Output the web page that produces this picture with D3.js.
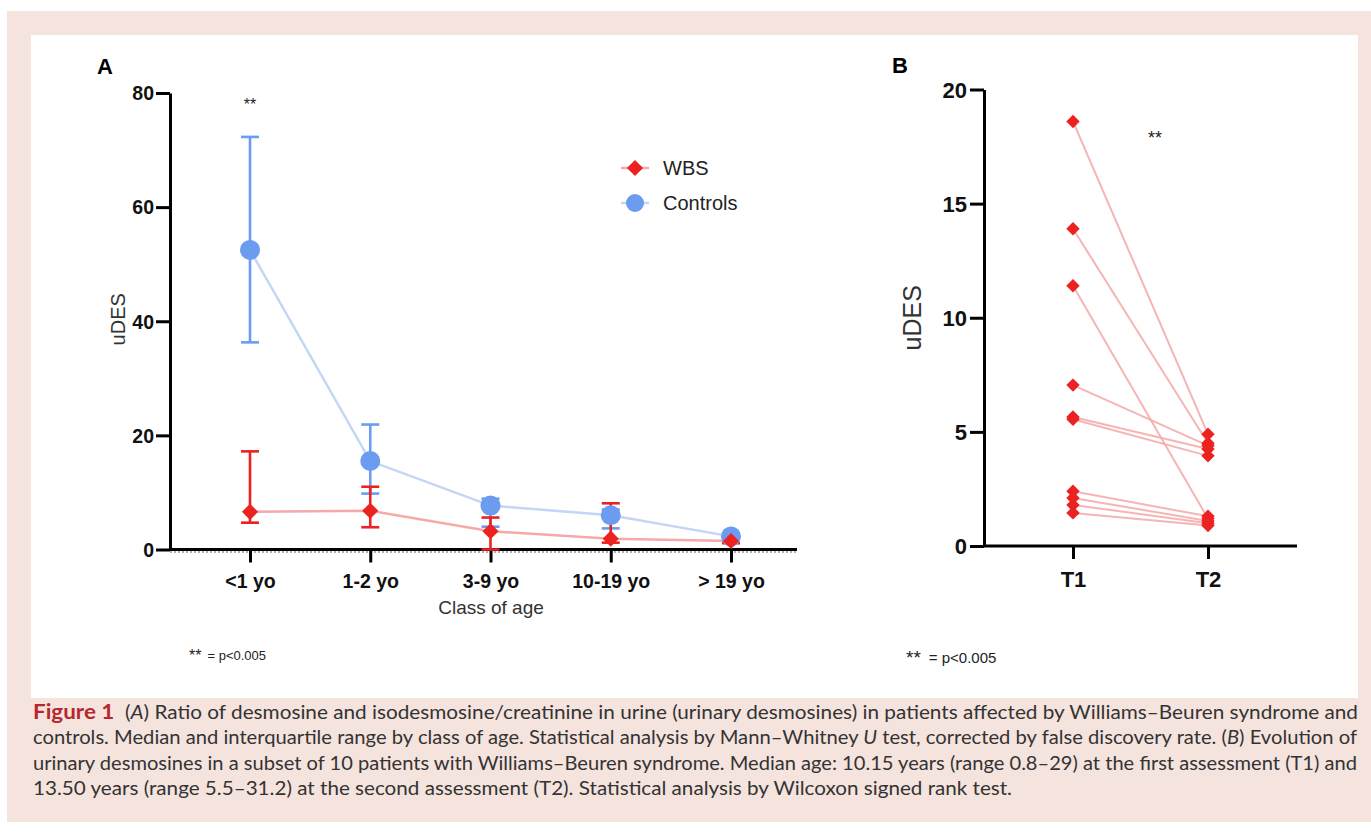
<!DOCTYPE html>
<html>
<head>
<meta charset="utf-8">
<script src="https://cdn.jsdelivr.net/npm/d3@7"></script>
<style>
  body { margin: 0; background: #fff; }
  text { font-family: "Liberation Sans", Arial, sans-serif; }
  .cap text { font-family: Lato, "Open Sans", sans-serif; }
</style>
</head>
<body>
<div class="canvas"></div>
<script>
// panel A data
const ageClasses = ['<1 yo', '1-2 yo', '3-9 yo', '10-19 yo', '> 19 yo'];
const wbsMedian = [6.6, 6.8, 3.2, 1.9, 1.5];
const wbsQ1 = [4.7, 3.9, 0.0, 1.2, 1.1];
const wbsQ3 = [17.2, 11.0, 5.6, 8.1, 2.0];
const ctrlMedian = [52.5, 15.5, 7.7, 6.0, 2.3];
const ctrlQ1 = [36.3, 9.8, 4.0, 3.7, 1.7];
const ctrlQ3 = [72.3, 21.9, 8.9, 7.0, 2.8];
const yTicksA = [0, 20, 40, 60, 80];

// panel B data (paired, 10 patients)
const times = ['T1', 'T2'];
const t1Values = [18.6, 13.9, 11.4, 7.05, 5.65, 5.55, 2.4, 2.1, 1.8, 1.45];
const t2Values = [4.9, 4.5, 1.2, 4.4, 4.25, 3.95, 1.3, 1.1, 1.0, 0.9];
const yTicksB = [0, 5, 10, 15, 20];

// caption
const captionLines = [
  [{t: 'Figure 1', c: 'fig'}, {t: '  ('}, {t: 'A', c: 'it'}, {t: ') Ratio of desmosine and isodesmosine/creatinine in urine (urinary desmosines) in patients affected by Williams\u2013Beuren syndrome and'}],
  [{t: 'controls. Median and interquartile range by class of age. Statistical analysis by Mann\u2013Whitney '}, {t: 'U', c: 'it'}, {t: ' test, corrected by false discovery rate. ('}, {t: 'B', c: 'it'}, {t: ') Evolution of'}],
  [{t: 'urinary desmosines in a subset of 10 patients with Williams\u2013Beuren syndrome. Median age: 10.15 years (range 0.8\u201329) at the first assessment (T1) and'}],
  [{t: '13.50 years (range 5.5\u201331.2) at the second assessment (T2). Statistical analysis by Wilcoxon signed rank test.'}]
];
const captionWidths = [1325, 1324, 1324, 979];

const red = '#ec2220', redLine = '#f5a9a8';
const blue = '#6b9cef', blueLine = '#c3d6f5';

const W = 1371, H = 833;
const svg = d3.select('.canvas').append('svg')
  .attr('width', W).attr('height', H);

// frame
svg.append('rect').attr('x', 7).attr('y', 11).attr('width', W - 7).attr('height', 811).attr('fill', '#f5e3de');
svg.append('rect').attr('x', 31).attr('y', 35).attr('width', 1327).attr('height', 663).attr('fill', '#fff');

//---------------- panel A
const A = {left: 170, right: 797, top: 93, bottom: 549.5};
const xA = d3.scalePoint().domain(ageClasses).range([250, 731]);
const yA = d3.scaleLinear().domain([0, 80]).range([A.bottom, A.top]);

const gA = svg.append('g');

// dotted zero line under axis
gA.append('line')
  .attr('x1', A.left).attr('x2', A.right)
  .attr('y1', yA(0) + 2.5).attr('y2', yA(0) + 2.5)
  .attr('stroke', '#666').attr('stroke-width', 1.2).attr('stroke-dasharray', '2,2');

const yAxisA = gA.append('g')
  .attr('transform', `translate(${A.left},0)`)
  .call(d3.axisLeft(yA).tickValues(yTicksA).tickSize(14).tickPadding(2).tickSizeOuter(0));

const xAxisA = gA.append('g')
  .attr('transform', `translate(0,${A.bottom})`)
  .call(d3.axisBottom(xA).tickSize(13).tickPadding(8).tickSizeOuter(0));
xAxisA.select('.domain').attr('d', `M${A.left},0H${A.right}`);

[yAxisA, xAxisA].forEach(ax => {
  ax.selectAll('path, line').attr('stroke', '#000').attr('stroke-width', 3);
  ax.selectAll('text').attr('fill', '#111').attr('font-size', 19.5).attr('font-weight', 'bold')
    .style('font-family', '"Liberation Sans", Arial, sans-serif');
});
xAxisA.selectAll('text').attr('dy', '0.9em');
yAxisA.selectAll('text').attr('dy', '0.35em');

const lineA = d3.line().x((d, i) => xA(ageClasses[i])).y(d => yA(d));

gA.append('path').datum(ctrlMedian).attr('d', lineA)
  .attr('fill', 'none').attr('stroke', blueLine).attr('stroke-width', 2.5);
gA.append('path').datum(wbsMedian).attr('d', lineA)
  .attr('fill', 'none').attr('stroke', redLine).attr('stroke-width', 2.5);

const errorBars = (g, lo, hi, col) => {
  const cap = 9;
  const eb = g.append('g').selectAll('g').data(ageClasses).join('g')
    .attr('stroke', col).attr('stroke-width', 2.6);
  eb.append('line').attr('x1', d => xA(d)).attr('x2', d => xA(d))
    .attr('y1', (d, i) => yA(lo[i])).attr('y2', (d, i) => yA(hi[i]));
  eb.append('line').attr('x1', d => xA(d) - cap).attr('x2', d => xA(d) + cap)
    .attr('y1', (d, i) => yA(lo[i])).attr('y2', (d, i) => yA(lo[i]));
  eb.append('line').attr('x1', d => xA(d) - cap).attr('x2', d => xA(d) + cap)
    .attr('y1', (d, i) => yA(hi[i])).attr('y2', (d, i) => yA(hi[i]));
};
errorBars(gA, ctrlQ1, ctrlQ3, blue);
errorBars(gA, wbsQ1, wbsQ3, red);

const diamond = size => d3.symbol().type(d3.symbolSquare).size(size);

gA.append('g').selectAll('circle').data(ctrlMedian).join('circle')
  .attr('cx', (d, i) => xA(ageClasses[i])).attr('cy', d => yA(d))
  .attr('r', 10).attr('fill', blue);

gA.append('g').selectAll('path').data(wbsMedian).join('path')
  .attr('d', diamond(130))
  .attr('transform', (d, i) => `translate(${xA(ageClasses[i])},${yA(d)}) rotate(45)`)
  .attr('fill', red);

// legend
const legend = gA.append('g').attr('transform', 'translate(635,168)');
const legendItems = [{name: 'WBS', col: red, lcol: redLine}, {name: 'Controls', col: blue, lcol: blueLine}];
const li = legend.selectAll('g').data(legendItems).join('g')
  .attr('transform', (d, i) => `translate(0,${i * 35})`);
li.append('line').attr('x1', -14).attr('x2', 14).attr('stroke', d => d.lcol).attr('stroke-width', 2.5);
li.filter((d, i) => i === 0).append('path').attr('d', diamond(130)).attr('transform', 'rotate(45)').attr('fill', d => d.col);
li.filter((d, i) => i === 1).append('circle').attr('r', 9).attr('fill', d => d.col);
li.append('text').attr('x', 28).attr('dy', '0.35em').attr('font-size', 20).attr('fill', '#222').text(d => d.name);

// labels A
gA.append('text').attr('x', 97).attr('y', 74).attr('font-size', 22).attr('font-weight', 'bold').text('A');
gA.append('text').attr('transform', `translate(125,${(A.top + A.bottom) / 2 - 2}) rotate(-90)`)
  .attr('text-anchor', 'middle').attr('font-size', 20).attr('fill', '#333').text('uDES');
gA.append('text').attr('x', 491).attr('y', 614).attr('text-anchor', 'middle')
  .attr('font-size', 19).attr('fill', '#333').text('Class of age');
gA.append('text').attr('x', xA(ageClasses[0])).attr('y', 110).attr('text-anchor', 'middle')
  .attr('font-size', 16).attr('fill', '#222').text('**');
const noteA = gA.append('text').attr('x', 189).attr('y', 661).attr('fill', '#222');
noteA.append('tspan').attr('font-size', 16).text('**');
noteA.append('tspan').attr('font-size', 13).attr('dx', 6).attr('dy', -1).text('= p<0.005');

//---------------- panel B
const B = {left: 984, right: 1297, top: 89.5, bottom: 546};
const xB = d3.scalePoint().domain(times).range([1073, 1208]);
const yB = d3.scaleLinear().domain([0, 20]).range([B.bottom, B.top]);
const gB = svg.append('g');

const yAxisB = gB.append('g')
  .attr('transform', `translate(${B.left},0)`)
  .call(d3.axisLeft(yB).tickValues(yTicksB).tickSize(14).tickPadding(3).tickSizeOuter(0));
const xAxisB = gB.append('g')
  .attr('transform', `translate(0,${B.bottom})`)
  .call(d3.axisBottom(xB).tickSize(13).tickPadding(8).tickSizeOuter(0));
xAxisB.select('.domain').attr('d', `M${B.left},0H${B.right}`);

[yAxisB, xAxisB].forEach(ax => {
  ax.selectAll('path, line').attr('stroke', '#000').attr('stroke-width', 3);
  ax.selectAll('text').attr('fill', '#111').attr('font-size', 22).attr('font-weight', 'bold')
    .style('font-family', '"Liberation Sans", Arial, sans-serif');
});
xAxisB.selectAll('text').attr('dy', '0.9em');
yAxisB.selectAll('text').attr('dy', '0.35em');

const pairs = t1Values.map((v, i) => [v, t2Values[i]]);
gB.append('g').selectAll('line').data(pairs).join('line')
  .attr('x1', xB('T1')).attr('x2', xB('T2'))
  .attr('y1', d => yB(d[0])).attr('y2', d => yB(d[1]))
  .attr('stroke', redLine).attr('stroke-width', 2).attr('opacity', 0.85);

const ptsB = pairs.flatMap(d => [{t: 'T1', v: d[0]}, {t: 'T2', v: d[1]}]);
gB.append('g').selectAll('path').data(ptsB).join('path')
  .attr('d', diamond(90))
  .attr('transform', d => `translate(${xB(d.t)},${yB(d.v)}) rotate(45)`)
  .attr('fill', red);

gB.append('text').attr('x', 892).attr('y', 73).attr('font-size', 22).attr('font-weight', 'bold').text('B');
gB.append('text').attr('transform', `translate(921,${(B.top + B.bottom) / 2}) rotate(-90)`)
  .attr('text-anchor', 'middle').attr('font-size', 25).attr('fill', '#333').text('uDES');
gB.append('text').attr('x', 1155).attr('y', 144).attr('text-anchor', 'middle')
  .attr('font-size', 18).attr('fill', '#222').text('**');
const noteB = gB.append('text').attr('x', 906).attr('y', 664).attr('fill', '#222');
noteB.append('tspan').attr('font-size', 19).text('**');
noteB.append('tspan').attr('font-size', 15).attr('dx', 8).attr('dy', -1).text('= p<0.005');

//---------------- caption
const cap = svg.append('g').attr('class', 'cap');
const capLines = cap.selectAll('text').data(captionLines).join('text')
  .attr('x', 33).attr('y', (d, i) => 719 + i * 25.3)
  .attr('font-size', 18.5).attr('fill', '#333')
  .attr('textLength', (d, i) => captionWidths[i]).attr('lengthAdjust', 'spacingAndGlyphs');
capLines.selectAll('tspan').data(d => d).join('tspan')
  .attr('font-weight', d => d.c === 'fig' ? 'bold' : null)
  .attr('fill', d => d.c === 'fig' ? '#b8272e' : null)
  .attr('font-style', d => d.c === 'it' ? 'italic' : null)
  .attr('font-size', d => d.c === 'fig' ? 20 : null)
  .style('white-space', 'pre')
  .text(d => d.t);
</script>
</body>
</html>
